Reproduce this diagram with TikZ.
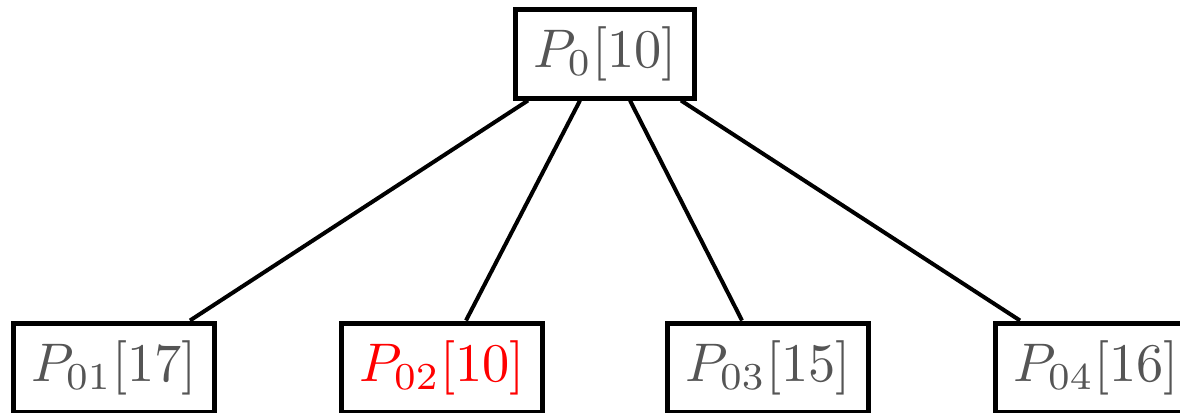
\documentclass[tikz,border=0pt]{standalone}
\usepackage{xcolor}
\usepackage{graphicx}
\newcommand{\plab}[1]{\scalebox{2.72}{$#1$}}
\definecolor{txtgray}{RGB}{85,85,85}
\tikzset{
  pbox/.style={draw=black, line width=2.5pt, minimum width=100.5pt, minimum height=44.5pt, inner sep=0pt, text=txtgray},
  rootbox/.style={pbox, minimum width=89.5pt},
  link/.style={draw=black, line width=2pt}
}
\begin{document}
\begin{tikzpicture}[x=0.5pt, y=-0.5pt]
\useasboundingbox (0,0) rectangle (1180,413);
\clip (0,0) rectangle (1180,413);
\node[rootbox] (root) at (605,53.5) {\plab{P_0[10]}};
\node[pbox] (c1) at (114,367.5) {\plab{P_{01}[17]}};
\node[pbox, text=red] (c2) at (442,367.5) {\plab{P_{02}[10]}};
\node[pbox] (c3) at (768,367.5) {\plab{P_{03}[15]}};
\node[pbox] (c4) at (1096,367.5) {\plab{P_{04}[16]}};
\draw[link] ([xshift=-38.5pt]root.south) -- ([xshift=38pt]c1.north);
\draw[link] ([xshift=-12.5pt]root.south) -- ([xshift=12pt]c2.north);
\draw[link] ([xshift=12.5pt]root.south) -- ([xshift=-13pt]c3.north);
\draw[link] ([xshift=38pt]root.south) -- ([xshift=-38pt]c4.north);
\end{tikzpicture}
\end{document}
